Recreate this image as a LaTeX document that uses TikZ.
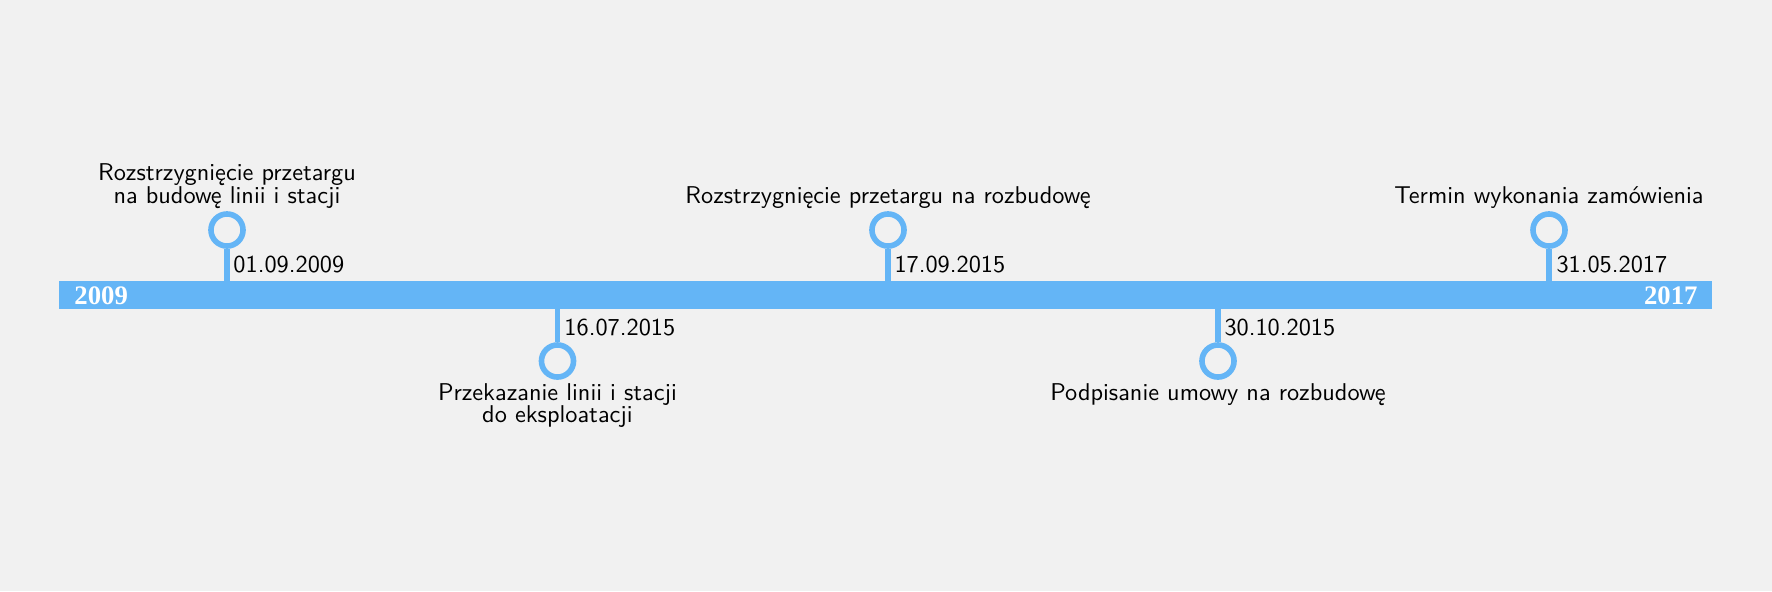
\documentclass[tikz,border=0pt]{standalone}
\usepackage{fontspec}
\newfontfamily\yearfont{Liberation Serif}
\definecolor{tlblue}{HTML}{64B5F6}
\definecolor{bgray}{HTML}{F1F1F1}
\begin{document}
\begin{tikzpicture}[x=0.4115pt,y=-0.4115pt,
  ring/.style={circle, draw=tlblue, line width=2.3pt, minimum size=13.2pt, inner sep=0pt},
  stem/.style={draw=tlblue, line width=2.3pt},
  datelbl/.style={font=\sffamily, inner sep=0pt, text=black},
  desc/.style={font=\sffamily\fontsize{10}{9.3}\selectfont, align=center, inner sep=0pt, text=black},
  yearlbl/.style={font=\yearfont\bfseries\fontsize{11}{13}\selectfont, text=white, inner sep=0pt}]
\fill[bgray] (0,0) rectangle (1772,591);
\useasboundingbox (0,0) rectangle (1772,591);
% bar
\node (bar) [fill=tlblue, draw=none, minimum width=680.2pt, minimum height=11.52pt, inner sep=0pt] at (885.5,295) {};
\node (y1) [yearlbl, anchor=west] at (74,296) {2009};
\node (y2) [yearlbl, anchor=east] at (1698,296) {2017};
% markers above
\node (r1) [ring] at (227,230) {};
\node (r3) [ring] at (888,230) {};
\node (r5) [ring] at (1549,230) {};
% markers below
\node (r2) [ring] at (557.5,361) {};
\node (r4) [ring] at (1218,361) {};
% stems
\draw[stem] (r1.south) -- (r1.south |- bar.north);
\draw[stem] (r3.south) -- (r3.south |- bar.north);
\draw[stem] (r5.south) -- (r5.south |- bar.north);
\draw[stem] (r2.north) -- (r2.north |- bar.south);
\draw[stem] (r4.north) -- (r4.north |- bar.south);
% dates
\node (d1) [datelbl, anchor=base west] at (233,272) {01.09.2009};
\node (d3) [datelbl, anchor=base west] at (894,272) {17.09.2015};
\node (d5) [datelbl, anchor=base west] at (1556,272) {31.05.2017};
\node (d2) [datelbl, anchor=base west] at (564,335) {16.07.2015};
\node (d4) [datelbl, anchor=base west] at (1224,335) {30.10.2015};
% descriptions
\node (t1) [desc, anchor=south] at (227,209) {Rozstrzygnięcie przetargu\\na budowę linii i stacji};
\node (t3) [desc, anchor=south] at (888,209) {Rozstrzygnięcie przetargu na rozbudowę};
\node (t5) [desc, anchor=south] at (1549,209) {Termin wykonania zamówienia};
\node (t2) [desc, anchor=north] at (557.5,383) {Przekazanie linii i stacji\\do eksploatacji};
\node (t4) [desc, anchor=north] at (1218,383) {Podpisanie umowy na rozbudowę};
\end{tikzpicture}
\end{document}
